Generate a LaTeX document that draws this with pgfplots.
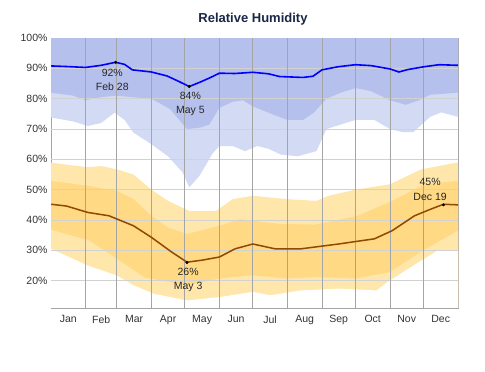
\documentclass[border=0pt]{standalone}
\usepackage{pgfplots}
\pgfplotsset{compat=1.18}
\usepackage{fontspec}
\setmainfont{Liberation Sans}
\definecolor{bdark}{RGB}{181,192,236}
\definecolor{blight}{RGB}{211,218,243}
\definecolor{odark}{RGB}{255,217,132}
\definecolor{olight}{RGB}{255,231,172}
\definecolor{bline}{RGB}{0,0,255}
\definecolor{oline}{RGB}{145,72,0}
\definecolor{titlec}{RGB}{26,40,70}
\definecolor{gridv}{RGB}{165,165,165}
\definecolor{gridh}{RGB}{210,210,210}
\tikzset{lab/.style={font=\fontsize{10.5}{12}\selectfont, text=black!85, inner sep=0pt}}
\begin{document}
\begin{tikzpicture}
\useasboundingbox (0pt,0pt) rectangle (485pt,372pt);
\node[font=\fontsize{13}{15}\selectfont\bfseries,text=titlec] at (253pt,353pt) {Relative Humidity};
\begin{axis}[
  at={(51pt,64pt)}, anchor=south west,
  width=407pt, height=270pt, scale only axis,
  xmin=0, xmax=365, ymin=11, ymax=100,
  xtick={15.5,45,74.5,105,135.5,166,196.5,227.5,258,288.5,319,349.5},
  xticklabels={Jan,Feb,Mar,Apr,May,Jun,Jul,Aug,Sep,Oct,Nov,Dec},
  major tick length=0pt,
  ytick={20,30,40,50,60,70,80,90,100},
  yticklabels={20\%,30\%,40\%,50\%,60\%,70\%,80\%,90\%,100\%},
  axis line style={gridv, line width=0.8pt},
  tick label style={font=\fontsize{10.5}{12}\selectfont, text=black!80},
  xticklabel style={yshift=-4pt},
  /pgf/number format/assume math mode=true,
]
% blue bands (filled from curve up to 100%)
\addplot[fill=blight, draw=none, forget plot] coordinates {
(0,100) (0,73.8) (20,72.5) (33,71) (45,72) (57,75.4) (66,73) (74,68.8) (90,65) (105,61) (118,55.7) (124,50.8) (133,54.5) (145,62) (151,64.4) (163,64.4) (174,62.7) (185,64.4) (195,63.5) (206,61.6) (221,61) (238,62.7) (247,70) (260,71.5) (273,73) (290,73) (304,70) (315,69) (325,69) (340,74) (350,75.5) (365,74) (365,100)} -- cycle;
\addplot[fill=bdark, draw=none, forget plot] coordinates {
(0,100) (0,82) (20,81) (31,79.5) (45,80.5) (58,81) (73,80.5) (90,80) (100,78) (107,76.5) (115,73) (122,70) (134,70.5) (142,71.5) (151,77) (163,79) (172,79.5) (181,77.5) (199,74.8) (212,73) (226,73) (236,75.5) (247,80) (260,82) (273,83.5) (287,82.5) (304,79.5) (318,78) (330,79.5) (340,81.3) (365,82) (365,100)} -- cycle;
% orange bands (stacked fills down to the bottom)
\addplot[fill=olight, draw=none, forget plot] coordinates {
(0,58.9) (33,57.4) (45,57.8) (59,56.7) (74,55) (90,50) (105,46.3) (124,43) (148,43) (163,46.9) (181,48) (211,46.9) (238,46.3) (249,48) (273,50) (304,51.8) (332,56.7) (365,59)} \closedcycle;
\addplot[fill=odark, draw=none, forget plot] coordinates {
(0,52.9) (33,51.3) (59,49.6) (74,46.9) (90,41.4) (105,37.5) (122,35.4) (151,38.1) (169,40.3) (205,38.7) (237,38.5) (275,41.4) (306,46.3) (335,51.8) (365,52.9)} \closedcycle;
\addplot[fill=olight, draw=none, forget plot] coordinates {
(0,36.8) (24,34.3) (33,33.5) (59,27.2) (84,21) (92,20.5) (122,18.5) (151,20.7) (181,21.8) (211,20.7) (238,21.2) (273,20.7) (304,22.8) (334,30) (365,36.5)} \closedcycle;
\addplot[fill=white, draw=none, forget plot] coordinates {
(0,30.5) (33,25) (59,21.7) (74,18.5) (92,15.7) (122,13.5) (151,14.6) (181,16.3) (197,15.2) (224,16.8) (258,17.4) (292,16.8) (302,19.6) (325,25) (347,30) (365,30)} \closedcycle;
% grid lines
\addplot[xcomb, gridh, line width=0.6pt, forget plot] coordinates {(365,20) (365,30) (365,40) (365,50) (365,60) (365,70) (365,80) (365,90)};
\addplot[ycomb, gridv, line width=0.7pt, forget plot] coordinates {(31,100) (59,100) (90,100) (120,100) (151,100) (181,100) (212,100) (243,100) (273,100) (304,100) (334,100)};
% median lines
\addplot[bline, line width=1.6pt] coordinates {
(0,90.8) (14,90.6) (31,90.3) (45,91.0) (58,92.0) (66,91.3) (73,89.5) (90,88.8) (104,87.5) (114,85.8) (124,84.0) (134,85.5) (142,86.8) (151,88.4) (165,88.3) (181,88.7) (195,88.2) (205,87.3) (212,87.2) (226,87.0) (235,87.4) (243,89.5) (257,90.5) (273,91.2) (287,90.9) (304,89.8) (312,88.8) (320,89.6) (334,90.5) (348,91.2) (365,91.0)};
\addplot[oline, line width=1.5pt] coordinates {
(0,45.2) (14,44.6) (33,42.5) (52,41.4) (74,38.1) (90,34.3) (108,29.5) (122,26.1) (136,26.8) (151,27.8) (165,30.5) (181,32.1) (201,30.5) (224,30.5) (258,32.1) (273,32.9) (290,33.8) (306,36.5) (326,41.4) (340,43.5) (352,45.2) (365,45)};
% markers
\addplot[only marks, mark=*, mark size=1.3pt, black] coordinates {(58,92) (124,84) (122,26) (352,45)};
% annotations
\node[lab] at (axis cs:55,88.5) {92\%};
\node[lab] at (axis cs:55,83.9) {Feb 28};
\node[lab] at (axis cs:125,81) {84\%};
\node[lab] at (axis cs:125,76) {May 5};
\node[lab] at (axis cs:123,23) {26\%};
\node[lab] at (axis cs:123,18) {May 3};
\node[lab] at (axis cs:340,52.5) {45\%};
\node[lab] at (axis cs:340,47.6) {Dec 19};
\end{axis}
\end{tikzpicture}
\end{document}
